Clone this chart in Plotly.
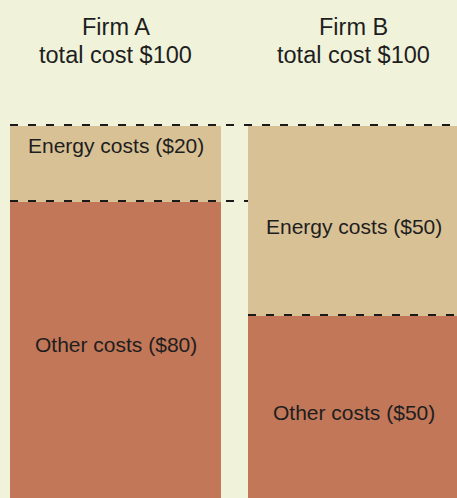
import plotly.graph_objects as go

firms = ["Firm A", "Firm B"]
totals = [100, 100]
energy = [20, 50]
other = [80, 50]
energy_labels = ["Energy costs ($20)", "Energy costs ($50)"]
other_labels = ["Other costs ($80)", "Other costs ($50)"]
title_line1 = ["Firm A", "Firm B"]
title_line2 = ["total cost $100", "total cost $100"]

BG = "#F0F3DA"
C_ENERGY = "#D9C196"
C_OTHER = "#C27758"
TXT = "#1e1e1e"
FONT = "Liberation Sans, Arial, sans-serif"

xpos = list(range(len(firms)))
W = 0.8866

fig = go.Figure()
fig.add_trace(go.Bar(x=xpos, y=other, width=W, marker=dict(color=C_OTHER, line=dict(width=0)),
                     hoverinfo="skip", showlegend=False))
fig.add_trace(go.Bar(x=xpos, y=energy, width=W, marker=dict(color=C_ENERGY, line=dict(width=0)),
                     hoverinfo="skip", showlegend=False))

tfont = dict(size=23.5, color=TXT, family=FONT)
lfont = dict(size=21, color=TXT, family=FONT)
ann = []
for i in xpos:
    ann.append(dict(x=i, xref="x", y=1, yref="paper", yanchor="middle", yshift=-27,
                    text=title_line1[i], showarrow=False, font=tfont))
    ann.append(dict(x=i, xref="x", y=1, yref="paper", yanchor="middle", yshift=-55,
                    text=title_line2[i], showarrow=False, font=tfont))
    base = other[i]
    if i == 0:
        ann.append(dict(x=i, y=base + energy[i], yanchor="top", yshift=-6,
                        text=energy_labels[i], showarrow=False, font=lfont))
        ann.append(dict(x=i, y=other[i] / 2, yshift=9,
                        text=other_labels[i], showarrow=False, font=lfont))
    else:
        ann.append(dict(x=i, y=base + energy[i] / 2, yshift=-5,
                        text=energy_labels[i], showarrow=False, font=lfont))
        ann.append(dict(x=i, y=other[i] / 2, yshift=-2,
                        text=other_labels[i], showarrow=False, font=lfont))

dash = dict(color="#1a1a1a", width=2, dash="8px,10px")


def hline(x0, x1, yval):
    # dashed line sitting just above the given value
    return dict(type="line", xref="x", yref="y", x0=x0, x1=x1,
                ysizemode="pixel", yanchor=yval, y0=1, y1=1, line=dash)


shapes = [
    hline(0 - W / 2, 1 + W / 2, totals[0]),
    hline(0 - W / 2, 1 - W / 2, other[0]),
    hline(1 - W / 2, 1 + W / 2, other[1]),
]

fig.update_layout(
    barmode="stack",
    width=457, height=498,
    margin=dict(l=0, r=0, t=0, b=0),
    paper_bgcolor=BG, plot_bgcolor=BG,
    xaxis=dict(range=[-0.4853, 1.4349], visible=False, fixedrange=True),
    yaxis=dict(range=[2.1, 133.16], visible=False, fixedrange=True),
    annotations=ann, shapes=shapes,
    bargap=0,
)

fig.write_html("out.html", config={"displayModeBar": False},
               post_script="document.body.style.margin='0';document.body.style.overflow='hidden';")
